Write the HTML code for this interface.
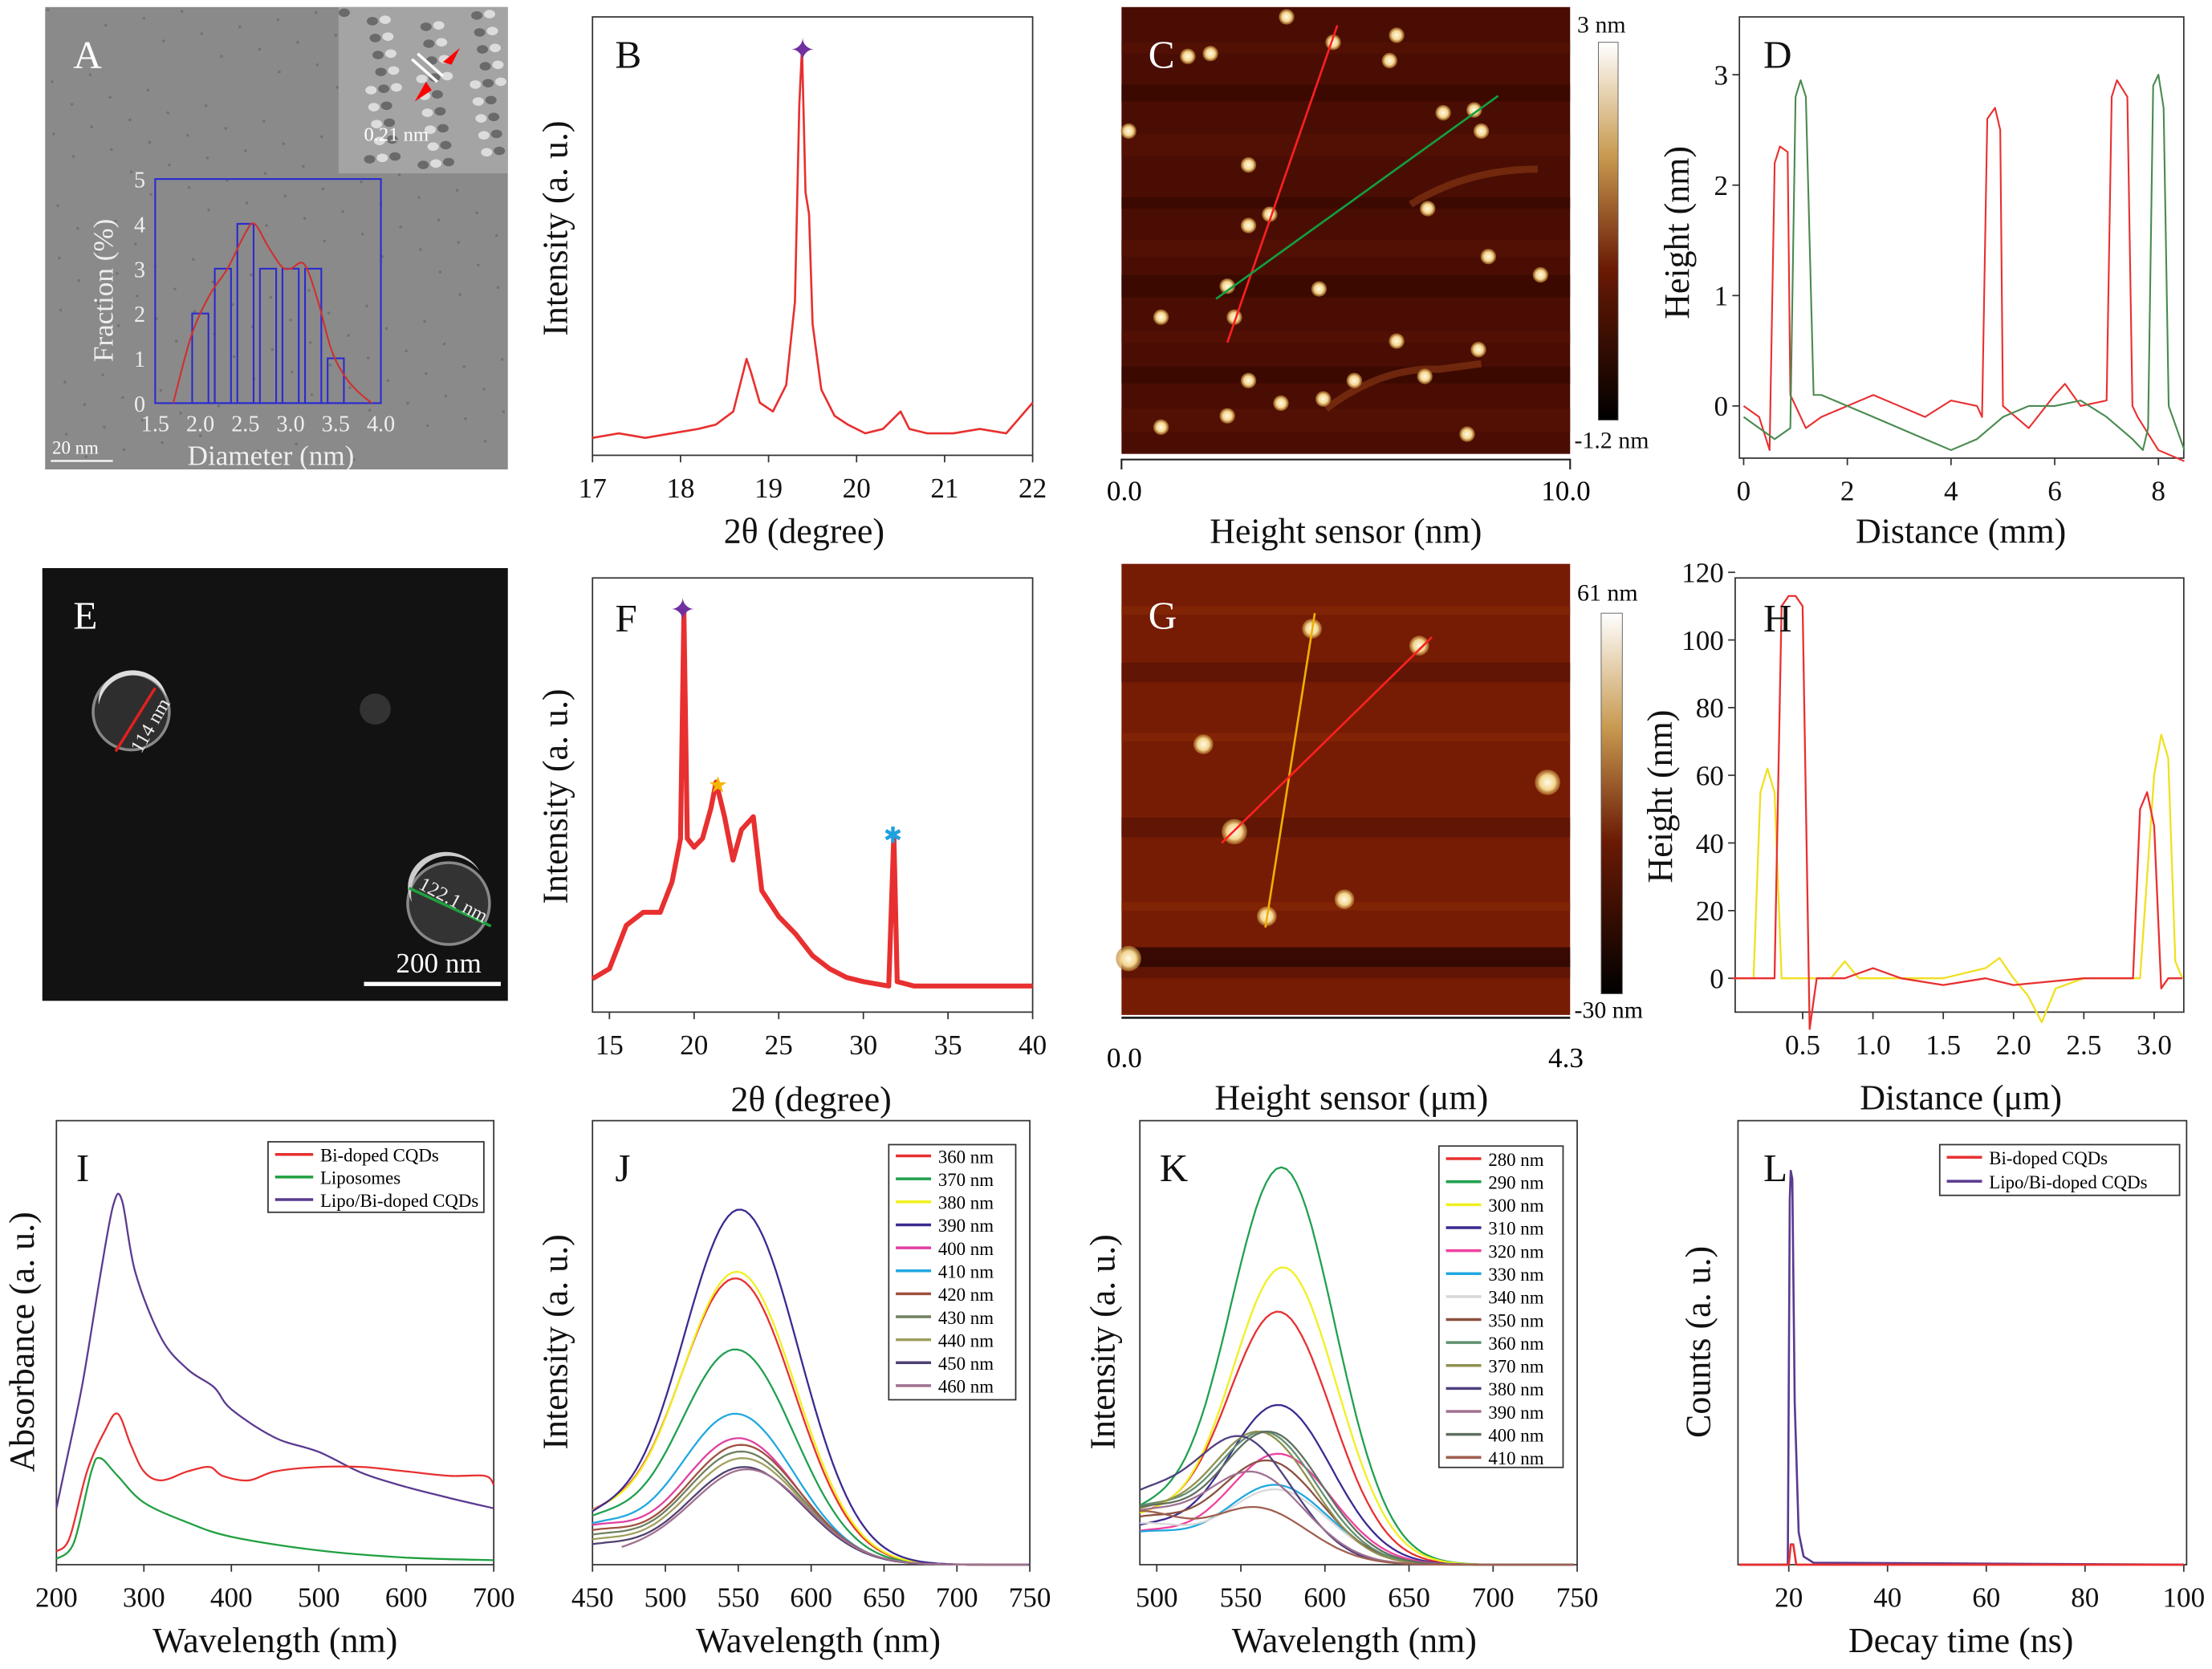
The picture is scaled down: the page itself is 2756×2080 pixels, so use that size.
<!DOCTYPE html>
<html><head><meta charset="utf-8">
<style>
html,body{margin:0;padding:0;background:#fff;}
svg{display:block;}
text{font-family:"Liberation Serif",serif;}
</style></head>
<body>
<svg id="fig" xmlns="http://www.w3.org/2000/svg" width="2756" height="2080" viewBox="0 0 1568 1184" preserveAspectRatio="none">
<defs>
<linearGradient id="cbC" x1="0" y1="0" x2="0" y2="1"><stop offset="0" stop-color="#ffffff"/><stop offset="0.3" stop-color="#c89a50"/><stop offset="0.6" stop-color="#6a1a04"/><stop offset="1" stop-color="#000"/></linearGradient>
<radialGradient id="dot"><stop offset="0" stop-color="#fffbe6"/><stop offset="0.6" stop-color="#f3d58f"/><stop offset="1" stop-color="#b77a2a" stop-opacity="0.6"/></radialGradient>
</defs>
<g id="root"></g>
</svg>
<script>
// ===== Data arrays =====
const histCenters=[2.0,2.25,2.5,2.75,3.0,3.25,3.5];
const histValues=[2,3,4,3,3,3,1];
const histFitX=[1.7,1.9,2.1,2.3,2.5,2.6,2.75,2.9,3.0,3.15,3.3,3.45,3.6,3.75,3.9];
const histFitY=[0,1.5,2.4,3.0,3.8,4.0,3.5,3.05,3.0,3.1,2.3,1.2,0.6,0.25,0];
const xrdBX=[17,17.3,17.6,17.9,18.2,18.4,18.6,18.7,18.75,18.8,18.9,19.05,19.2,19.3,19.35,19.38,19.42,19.46,19.5,19.6,19.75,19.9,20.1,20.3,20.45,20.5,20.6,20.8,21.1,21.4,21.7,22];
const xrdBY=[0.04,0.05,0.04,0.05,0.06,0.07,0.1,0.18,0.22,0.19,0.12,0.1,0.16,0.35,0.8,0.93,0.6,0.55,0.3,0.15,0.09,0.07,0.05,0.06,0.09,0.1,0.06,0.05,0.05,0.06,0.05,0.12];
const profDX=[0,0.3,0.5,0.6,0.7,0.85,0.9,1.0,1.2,1.5,2,2.5,3,3.5,4,4.5,4.6,4.7,4.85,4.95,5.0,5.5,6,6.2,6.5,7.0,7.1,7.2,7.4,7.5,7.6,8.0,8.5];
const profDR=[0,-0.1,-0.4,2.2,2.35,2.3,0.1,0.0,-0.2,-0.1,0.0,0.1,0.0,-0.1,0.05,0.0,-0.1,2.6,2.7,2.5,0.0,-0.2,0.1,0.2,0.0,0.05,2.8,2.95,2.8,0.0,-0.1,-0.4,-0.5];
const profDGX=[0,0.3,0.6,0.9,1.0,1.1,1.2,1.35,1.5,2,2.5,3,3.5,4,4.5,5,5.5,6,6.5,7,7.5,7.7,7.8,7.9,8.0,8.1,8.2,8.5];
const profDG=[-0.1,-0.2,-0.3,-0.2,2.8,2.95,2.8,0.1,0.1,0.0,-0.1,-0.2,-0.3,-0.4,-0.3,-0.1,0.0,0.0,0.05,-0.1,-0.3,-0.4,-0.2,2.9,3.0,2.7,0.0,-0.4];
const xrdFX=[14,15,16,17,18,18.7,19.2,19.4,19.6,20,20.5,21,21.3,21.8,22.3,22.8,23.5,24,25,26,27,28,29,30,31.5,31.8,32,33,36,40];
const xrdFY=[0.077,0.1,0.2,0.23,0.23,0.3,0.4,0.92,0.4,0.38,0.4,0.47,0.53,0.45,0.35,0.42,0.45,0.28,0.22,0.18,0.13,0.1,0.08,0.07,0.06,0.41,0.07,0.06,0.06,0.06];
const profHX=[0,0.2,0.3,0.35,0.4,0.45,0.5,0.55,0.6,0.8,1.0,1.2,1.5,1.8,2.0,2.5,2.7,2.85,2.9,2.95,3.0,3.05,3.1,3.2];
const profHR=[0,0,0,110,113,113,110,-15,0,0,3,0,-2,0,-2,0,0,0,50,55,45,-3,0,0];
const profHYX=[0,0.15,0.2,0.25,0.3,0.35,0.7,0.8,0.9,1.5,1.8,1.9,2.0,2.1,2.2,2.3,2.5,2.9,3.0,3.05,3.1,3.15,3.2];
const profHY=[0,0,55,62,55,0,0,5,0,0,3,6,0,-5,-13,-3,0,0,60,72,65,5,0];
const absX=[200,210,230,250,265,275,290,320,350,380,400,450,500,550,600,650,700];
const absPurple=[12.7,22,41,65,81,82,66,51,44,40,35,28.6,25.4,20.6,17.5,15,12.7];
const absRedX=[200,215,235,255,270,285,300,320,350,375,390,420,450,500,550,600,650,690,700];
const absRed=[3,6,21,30,34,27,21,19,21,22,20,19,21,22,22,21,20,20,18];
const absGreenX=[200,220,240,250,270,300,350,400,500,600,700];
const absGreen=[1.3,5,21,24,20,14,9.5,6.3,3.2,1.6,1];
const jLabels=["360 nm","370 nm","380 nm","390 nm","400 nm","410 nm","420 nm","430 nm","440 nm","450 nm","460 nm"];
const jPeak=[64.5,48.5,66,80,28.5,34,27,25.5,24,22,21.5];
const jCenter=[548,548,549,551,550,548,552,552,553,554,556];
const jStart=[9.5,9,9.5,9,8,8,7,6,5,4,2];
const kLabels=["280 nm","290 nm","300 nm","310 nm","320 nm","330 nm","340 nm","350 nm","360 nm","370 nm","380 nm","390 nm","400 nm","410 nm"];
const kPeak=[57,89.5,67,36,25,18,17,23.5,30,30,29,21,30,13];
const kCenter=[572,574,575,572,572,570,570,565,563,560,548,555,566,557];
const kStart=[10,11,10,8,7,7,9,10,12,11,14,11,12,12];
const decX=[10,19.8,20.2,20.4,20.7,21.2,22,23,25,100];
const decPurple=[0,0,90,97,95,40,8,2,0.5,0];
const decRedX=[10,20,20.4,20.9,21.5,100];
const decRed=[0,0,5,5,0,0];

// ===== helpers =====
const NS="http://www.w3.org/2000/svg";
const root=document.getElementById('root');
function el(tag,attrs,parent,txt){const e=document.createElementNS(NS,tag);for(const k in attrs)e.setAttribute(k,attrs[k]);if(txt!==undefined)e.textContent=txt;(parent||root).appendChild(e);return e;}
function lin(d0,d1,r0,r1){return v=>r0+(v-d0)/(d1-d0)*(r1-r0);}
function grp(name){const g=el('g',{});return g;}
function poly(g,xs,ys,sx,sy,color,w,name){const p=xs.map((x,i)=>sx(x).toFixed(1)+','+sy(ys[i]).toFixed(1)).join(' ');const e=el('polyline',{points:p,fill:'none',stroke:color,'stroke-width':w||1.2,'stroke-linejoin':'round'},g);return e;}
function smooth(g,xs,ys,sx,sy,color,w,name){const P=xs.map((x,i)=>[sx(x),sy(ys[i])]);let d='M'+P[0][0].toFixed(1)+' '+P[0][1].toFixed(1);for(let i=0;i<P.length-1;i++){const p0=P[Math.max(0,i-1)],p1=P[i],p2=P[i+1],p3=P[Math.min(P.length-1,i+2)];const c1=[p1[0]+(p2[0]-p0[0])/6,p1[1]+(p2[1]-p0[1])/6],c2=[p2[0]-(p3[0]-p1[0])/6,p2[1]-(p3[1]-p1[1])/6];d+=` C${c1[0].toFixed(1)} ${c1[1].toFixed(1)} ${c2[0].toFixed(1)} ${c2[1].toFixed(1)} ${p2[0].toFixed(1)} ${p2[1].toFixed(1)}`;}const e=el('path',{d:d,fill:'none',stroke:color,'stroke-width':w||1.2},g);return e;}
function txt(g,x,y,s,size,opts){return el('text',Object.assign({x:x,y:y,'font-size':size},opts||{}),g,s);}
function box(g,x0,y0,x1,y1){el('rect',{x:x0,y:y0,width:x1-x0,height:y1-y0,fill:'none',stroke:'#333','stroke-width':1},g);}
function xticks(g,ticks,sx,y,labels){ticks.forEach((t,i)=>{el('line',{x1:sx(t),x2:sx(t),y1:y,y2:y+5,stroke:'#333'},g);const e=txt(g,sx(t),y+30,labels?labels[i]:String(t),20,{'text-anchor':'middle',fill:'#111'});});}
function yticks(g,ticks,sy,x){ticks.forEach(t=>{el('line',{x1:x,x2:x-5,y1:sy(t),y2:sy(t),stroke:'#333'},g);const e=txt(g,x-8,sy(t)+7,String(t),20,{'text-anchor':'end',fill:'#111'});});}
function xtitle(g,x,y,s){const e=txt(g,x,y,s,25,{'text-anchor':'middle',fill:'#111'});return e;}
function ytitle(g,x,y,s){const e=txt(g,x,y,s,25,{'text-anchor':'middle',fill:'#111',transform:`rotate(-90 ${x} ${y})`});return e;}
function letter(g,x,y,s,c){const e=txt(g,x,y,s,28,{fill:c||'#111'});}
function curve(xmin,xmax,h,c,w,s){const xs=[],ys=[];for(let x=xmin;x<=xmax;x+=3){xs.push(x);ys.push(h*Math.exp(-Math.pow((x-c)/w,2))+s*Math.exp(-Math.pow((x-xmin)/45,2))*(1-Math.exp(-Math.pow((x-c)/w,2))));}return [xs,ys];}

// ===== Panel A =====
(function(){const g=grp('panel-a-tem');
el('rect',{x:32,y:5,width:328,height:328,fill:'#8a8a8a'},g);
for(let i=0;i<160;i++){const x=34+((i*73)%324),y=7+((i*131)%322);el('circle',{cx:x,cy:y,r:1,fill:'#727272'},g);}
el('rect',{x:240,y:5,width:120,height:118,fill:'#a4a4a4'},g);
for(let i=0;i<60;i++){const x=244+((i*37)%112),y=9+((i*53)%110);el('ellipse',{cx:x,cy:y,rx:4,ry:3,fill:(i%2?'#dcdcdc':'#6a6a6a')},g);}
el('line',{x1:292,y1:42,x2:310,y2:58,stroke:'#fff','stroke-width':2},g);
el('line',{x1:296,y1:38,x2:314,y2:54,stroke:'#fff','stroke-width':2},g);
el('path',{d:'M326 34 L314 44 L320 46 Z M294 72 L302 58 L306 64 Z',fill:'#f00'},g);
txt(g,258,100,'0.21 nm',14,{fill:'#fff'});
letter(g,52,48,'A','#fff');
const sx=lin(1.5,4.0,110,270),sy=lin(0,5,286,127);
el('rect',{x:110,y:127,width:160,height:159,fill:'none',stroke:'#2a2ad0','stroke-width':1.2},g);
histCenters.forEach((c,i)=>{const b=el('rect',{x:sx(c-0.09),y:sy(histValues[i]),width:sx(c+0.09)-sx(c-0.09),height:sy(0)-sy(histValues[i]),fill:'none',stroke:'#2a2ad0','stroke-width':1.2},g);});
smooth(g,histFitX,histFitY,sx,sy,'#d03030',1.2,'hist-fit');
[1.5,2.0,2.5,3.0,3.5,4.0].forEach(t=>txt(g,sx(t),306,t.toFixed(1),16,{'text-anchor':'middle',fill:'#eee'}));
[0,1,2,3,4,5].forEach(t=>txt(g,103,sy(t)+6,String(t),16,{'text-anchor':'end',fill:'#eee'}));
txt(g,192,330,'Diameter (nm)',20,{'text-anchor':'middle',fill:'#eee'});
txt(g,80,206,'Fraction (%)',20,{'text-anchor':'middle',fill:'#eee',transform:'rotate(-90 80 206)'});
el('line',{x1:36,y1:327,x2:80,y2:327,stroke:'#eee','stroke-width':1.5},g);
txt(g,37,322,'20 nm',13,{fill:'#fff'});
})();

// ===== Panel B =====
(function(){const g=grp('panel-b-xrd');const sx=lin(17,22,420,732),sy=lin(0,1,323,12);
box(g,420,12,732,323);xticks(g,[17,18,19,20,21,22],sx,323);
poly(g,xrdBX,xrdBY,sx,sy,'#e83030',1.5,'xrd-line');
txt(g,569,43,'✦',22,{'text-anchor':'middle',fill:'#7030a0'});
letter(g,436,48,'B');xtitle(g,570,385,'2θ (degree)');ytitle(g,402,162,'Intensity (a. u.)');
})();

// ===== Panel C =====
(function(){const g=grp('panel-c-afm');
el('rect',{x:795,y:5,width:318,height:317,fill:'#4a0d03'},g);
[30,60,95,140,170,195,235,260,290].forEach((y,i)=>el('rect',{x:795,y:y,width:318,height:8+(i%3)*4,fill:i%2?'#360801':'#561305',opacity:0.7},g));
el('path',{d:'M940 290 Q980 260 1020 262 L1050 258 M1000 145 Q1040 120 1090 120',stroke:'#7a3010','stroke-width':5,fill:'none',opacity:0.8},g);
const dots=[[800,93],[842,40],[858,38],[912,12],[945,30],[990,25],[985,43],[1023,80],[1045,78],[1050,93],[885,117],[900,152],[885,160],[1012,148],[1055,182],[1092,195],[870,203],[935,205],[875,225],[823,225],[990,242],[1048,248],[960,270],[908,286],[938,283],[870,295],[1040,308],[823,303],[885,270],[1010,267]];
dots.forEach(d=>el('circle',{cx:d[0],cy:d[1],r:5.5,fill:'url(#dot)'},g));
el('line',{x1:948,y1:18,x2:870,y2:243,stroke:'#ff2020','stroke-width':1.5},g);
el('line',{x1:862,y1:212,x2:1062,y2:68,stroke:'#10a040','stroke-width':1.5},g);
letter(g,814,48,'C','#fff');
el('rect',{x:1133,y:30,width:14,height:268,fill:'url(#cbC)',stroke:'#555','stroke-width':0.5},g);
txt(g,1118,23,'3 nm',17,{fill:'#111'});txt(g,1116,318,'-1.2 nm',17,{fill:'#111'});
el('path',{d:'M795 333 V326 H1113 V333',fill:'none',stroke:'#222','stroke-width':1.2},g);
txt(g,797,355,'0.0',20,{'text-anchor':'middle'});txt(g,1110,355,'10.0',20,{'text-anchor':'middle'});
xtitle(g,954,385,'Height sensor (nm)');
})();

// ===== Panel D =====
(function(){const g=grp('panel-d-profile');const sx=lin(0,8,1236,1530),sy=lin(0,3,288,53);
box(g,1233,12,1548,325);xticks(g,[0,2,4,6,8],sx,325);yticks(g,[0,1,2,3],sy,1233);
poly(g,profDX,profDR,sx,sy,'#e83030',1.2,'profile-red');poly(g,profDGX,profDG,sx,sy,'#4a8a50',1.2,'profile-green');
letter(g,1250,48,'D');xtitle(g,1390,385,'Distance (mm)');ytitle(g,1197,165,'Height (nm)');
})();

// ===== Panel E =====
(function(){const g=grp('panel-e-sem');
el('rect',{x:30,y:403,width:330,height:307,fill:'#121212'},g);
el('circle',{cx:93,cy:505,r:27,fill:'#2e2e2e',stroke:'#888','stroke-width':2},g);
el('path',{d:'M70 500 A25 25 0 0 1 118 495 A22 20 0 0 0 70 500 Z',fill:'#ddd'},g);
el('circle',{cx:318,cy:641,r:29,fill:'#333',stroke:'#888','stroke-width':2},g);
el('path',{d:'M292 640 A27 27 0 0 1 340 618 A24 22 0 0 0 292 640 Z',fill:'#ccc'},g);
el('circle',{cx:266,cy:503,r:11,fill:'#333'},g);
el('line',{x1:82,y1:533,x2:110,y2:488,stroke:'#e02020','stroke-width':2},g);
el('line',{x1:290,y1:630,x2:348,y2:657,stroke:'#20a040','stroke-width':2},g);
txt(g,100,535,'114 nm',14,{fill:'#eee',transform:'rotate(-60 100 535)'});
txt(g,296,630,'122.1 nm',14,{fill:'#eee',transform:'rotate(28 296 630)'});
el('line',{x1:258,y1:698,x2:355,y2:698,stroke:'#fff','stroke-width':3},g);
txt(g,311,690,'200 nm',20,{'text-anchor':'middle',fill:'#fff'});
letter(g,52,446,'E','#fff');
})();

// ===== Panel F =====
(function(){const g=grp('panel-f-xrd');const sx=lin(15,40,432,732),sy=lin(0,1,718,410);
box(g,420,410,732,718);xticks(g,[15,20,25,30,35,40],sx,718);
poly(g,xrdFX,xrdFY,sx,sy,'#e83030',3.5,'xrd-line');
txt(g,484,440,'✦',22,{'text-anchor':'middle',fill:'#7030a0'});
txt(g,509,562,'★',16,{'text-anchor':'middle',fill:'#f5b500'});
txt(g,633,598,'✱',16,{'text-anchor':'middle',fill:'#20a0e0'});
letter(g,436,448,'F');xtitle(g,575,788,'2θ (degree)');ytitle(g,402,565,'Intensity (a. u.)');
})();

// ===== Panel G =====
(function(){const g=grp('panel-g-afm');
el('rect',{x:795,y:400,width:318,height:320,fill:'#761c05'},g);
[430,470,520,580,640,680].forEach((y,i)=>el('rect',{x:795,y:y,width:318,height:6+(i%2)*8,fill:i%2?'#581204':'#862606',opacity:0.7},g));
el('rect',{x:795,y:672,width:318,height:14,fill:'#2a0602',opacity:0.8},g);
[[930,446,7],[1006,458,7],[853,528,7],[1097,555,9],[875,590,9],[953,638,7],[898,650,7],[800,680,9]].forEach(d=>el('circle',{cx:d[0],cy:d[1],r:d[2],fill:'url(#dot)'},g));
el('line',{x1:932,y1:435,x2:897,y2:658,stroke:'#f0b000','stroke-width':1.5},g);
el('line',{x1:866,y1:598,x2:1015,y2:452,stroke:'#ff2020','stroke-width':1.5},g);
letter(g,814,446,'G','#fff');
el('rect',{x:1135,y:435,width:15,height:270,fill:'url(#cbC)',stroke:'#555','stroke-width':0.5},g);
txt(g,1118,426,'61 nm',17);txt(g,1116,722,'-30 nm',17);
el('line',{x1:795,y1:722,x2:1113,y2:722,stroke:'#222','stroke-width':1.5},g);
txt(g,797,757,'0.0',20,{'text-anchor':'middle'});txt(g,1110,757,'4.3',20,{'text-anchor':'middle'});
xtitle(g,958,787,'Height sensor (μm)');
})();

// ===== Panel H =====
(function(){const g=grp('panel-h-profile');const sx=lin(0,3,1228,1527),sy=lin(0,120,694,406);
box(g,1230,410,1548,718);xticks(g,[0.5,1.0,1.5,2.0,2.5,3.0],sx,718,['0.5','1.0','1.5','2.0','2.5','3.0']);yticks(g,[0,20,40,60,80,100,120],sy,1230);
poly(g,profHYX,profHY,sx,sy,'#f0e020',1.3,'profile-yellow');poly(g,profHX,profHR,sx,sy,'#e83030',1.3,'profile-red');
letter(g,1250,448,'H');xtitle(g,1390,787,'Distance (μm)');ytitle(g,1185,565,'Height (nm)');
})();

// ===== Panel I =====
(function(){const g=grp('panel-i-absorbance');const sx=lin(200,700,40,350),sy=lin(0,100,1110,795);
box(g,40,795,350,1110);xticks(g,[200,300,400,500,600,700],sx,1110);
smooth(g,absX,absPurple,sx,sy,'#5a3a90',1.3,'series-lipo-bi-cqds');smooth(g,absRedX,absRed,sx,sy,'#e83030',1.3,'series-bi-cqds');smooth(g,absGreenX,absGreen,sx,sy,'#20a040',1.3,'series-liposomes');
letter(g,54,838,'I');xtitle(g,195,1172,'Wavelength (nm)');ytitle(g,24,952,'Absorbance (a. u.)');
const lg=grp('legend-i');el('rect',{x:190,y:810,width:153,height:50,fill:'#fff',stroke:'#333'},lg);
[['Bi-doped CQDs','#e83030'],['Liposomes','#20a040'],['Lipo/Bi-doped CQDs','#5a3a90']].forEach((e,i)=>{const y=819+i*16;el('line',{x1:195,x2:222,y1:y,y2:y,stroke:e[1],'stroke-width':2},lg);const t=txt(lg,227,y+5,e[0],13);});
})();

// ===== Panel J =====
const jColors=['#e83030','#20a050','#f0f020','#3a2a90','#e040a0','#20a8e0','#a05040','#708060','#a0a060','#504070','#a07090'];
(function(){const g=grp('panel-j-pl');const sx=lin(450,750,420,730),sy=lin(0,100,1110,795);
box(g,420,795,730,1110);xticks(g,[450,500,550,600,650,700,750],sx,1110);
jPeak.forEach((h,i)=>{const c=curve(450+(i>=10?20:0),750,h,jCenter[i],57,jStart[i]);poly(g,c[0],c[1],sx,sy,jColors[i],1.3,'series-'+jLabels[i].replace(' ','-'));});
letter(g,436,838,'J');xtitle(g,580,1172,'Wavelength (nm)');ytitle(g,402,952,'Intensity (a. u.)');
const lg=grp('legend-j');el('rect',{x:630,y:812,width:90,height:181,fill:'#fff',stroke:'#333'},lg);
jLabels.forEach((l,i)=>{const y=820+i*16.3;el('line',{x1:635,x2:660,y1:y,y2:y,stroke:jColors[i],'stroke-width':2},lg);const t=txt(lg,665,y+5,l,13);});
})();

// ===== Panel K =====
const kColors=['#e83030','#20a050','#f0f020','#3a2a90','#f040a0','#20a8e0','#d8d8d8','#8a5040','#609070','#909050','#504080','#a07090','#607060','#a06050'];
(function(){const g=grp('panel-k-pl');const sx=lin(500,750,820,1118),sy=lin(0,100,1110,795);
box(g,808,795,1118,1110);xticks(g,[500,550,600,650,700,750],sx,1110);
kPeak.forEach((h,i)=>{const c=curve(490,750,h,kCenter[i],45,kStart[i]);poly(g,c[0],c[1],sx,sy,kColors[i],1.3,'series-'+kLabels[i].replace(' ','-'));});
letter(g,822,838,'K');xtitle(g,960,1172,'Wavelength (nm)');ytitle(g,790,952,'Intensity (a. u.)');
const lg=grp('legend-k');el('rect',{x:1020,y:813,width:88,height:228,fill:'#fff',stroke:'#333'},lg);
kLabels.forEach((l,i)=>{const y=822+i*16.3;el('line',{x1:1025,x2:1050,y1:y,y2:y,stroke:kColors[i],'stroke-width':2},lg);const t=txt(lg,1055,y+5,l,13);});
})();

// ===== Panel L =====
(function(){const g=grp('panel-l-decay');const sx=lin(10,100,1233,1548),sy=lin(0,100,1110,822);
box(g,1232,795,1550,1110);xticks(g,[20,40,60,80,100],sx,1110);
poly(g,decX,decPurple,sx,sy,'#5a3a90',1.5,'series-lipo-bi-cqds');poly(g,decRedX,decRed,sx,sy,'#e83030',1.5,'series-bi-cqds');
letter(g,1250,838,'L');xtitle(g,1390,1172,'Decay time (ns)');ytitle(g,1212,952,'Counts (a. u.)');
const lg=grp('legend-l');el('rect',{x:1375,y:812,width:170,height:36,fill:'#fff',stroke:'#333'},lg);
[['Bi-doped CQDs','#e83030'],['Lipo/Bi-doped CQDs','#5a3a90']].forEach((e,i)=>{const y=821+i*17;el('line',{x1:1380,x2:1405,y1:y,y2:y,stroke:e[1],'stroke-width':2},lg);const t=txt(lg,1410,y+5,e[0],13);});
})();
</script>
</body></html>
